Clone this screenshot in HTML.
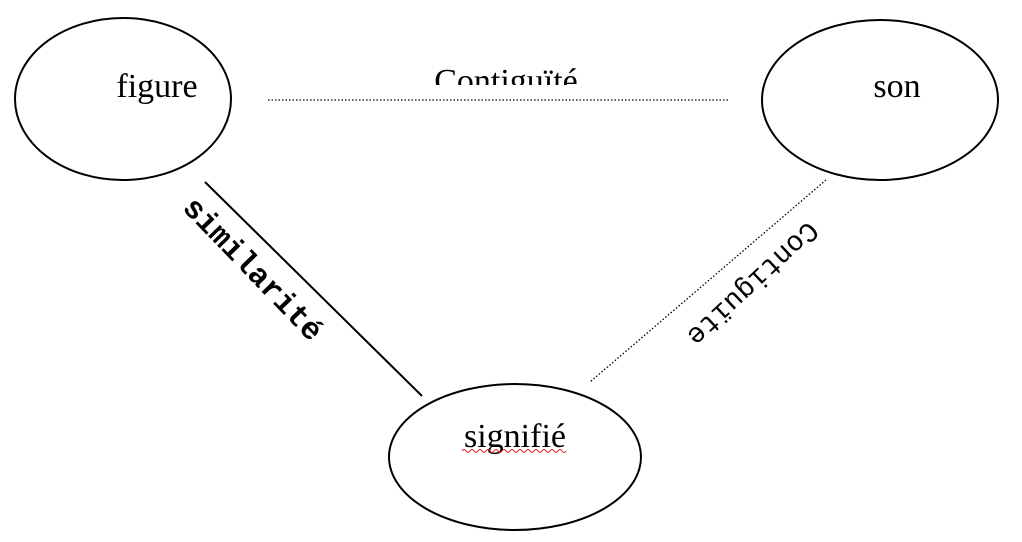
<!DOCTYPE html>
<html><head><meta charset="utf-8"><style>
html,body{margin:0;padding:0;background:#fff;width:1022px;height:542px;overflow:hidden}
</style></head><body>
<svg width="1022" height="542" viewBox="0 0 1022 542" xmlns="http://www.w3.org/2000/svg">
<rect width="1022" height="542" fill="#fff"/>
<ellipse cx="123" cy="99" rx="108" ry="81" fill="none" stroke="#000" stroke-width="2"/>
<ellipse cx="880" cy="100" rx="118" ry="80" fill="none" stroke="#000" stroke-width="2"/>
<ellipse cx="515" cy="457" rx="126" ry="73" fill="none" stroke="#000" stroke-width="2"/>
<line x1="268" y1="100" x2="730" y2="100" stroke="#000" stroke-width="1.3" stroke-dasharray="1.5,2"/>
<line x1="205" y1="182" x2="422" y2="396" stroke="#000" stroke-width="2"/>
<line x1="826" y1="180" x2="590" y2="382" stroke="#000" stroke-width="1.3" stroke-dasharray="1.5,2"/>
<g font-family="Liberation Serif, serif" font-size="34" fill="#000" text-anchor="middle">
<text x="157" y="97">figure</text>
<text x="897" y="97">son</text>
<text x="515" y="447">signifié</text>
</g>
<clipPath id="c"><rect x="400" y="55" width="220" height="30"/></clipPath>
<text x="506" y="92" clip-path="url(#c)" font-family="Liberation Serif, serif" font-size="34" text-anchor="middle">Contiguïté</text>
<path d="M462 451 q2 -3 4 0 q2 3 4 0 q2 -3 4 0 q2 3 4 0 q2 -3 4 0 q2 3 4 0 q2 -3 4 0 q2 3 4 0 q2 -3 4 0 q2 3 4 0 q2 -3 4 0 q2 3 4 0 q2 -3 4 0 q2 3 4 0 q2 -3 4 0 q2 3 4 0 q2 -3 4 0 q2 3 4 0 q2 -3 4 0 q2 3 4 0 q2 -3 4 0 q2 3 4 0 q2 -3 4 0 q2 3 4 0 q2 -3 4 0 q2 3 4 0" fill="none" stroke="#e02020" stroke-width="1"/>
<text transform="translate(252,270) rotate(46)" font-family="Liberation Mono, monospace" font-weight="bold" font-size="31" text-anchor="middle" dominant-baseline="middle">similarité</text>
<text transform="translate(752,283) rotate(137)" font-family="Liberation Mono, monospace" font-size="28" text-anchor="middle" dominant-baseline="middle">Contiguïte</text>
</svg>
</body></html>
